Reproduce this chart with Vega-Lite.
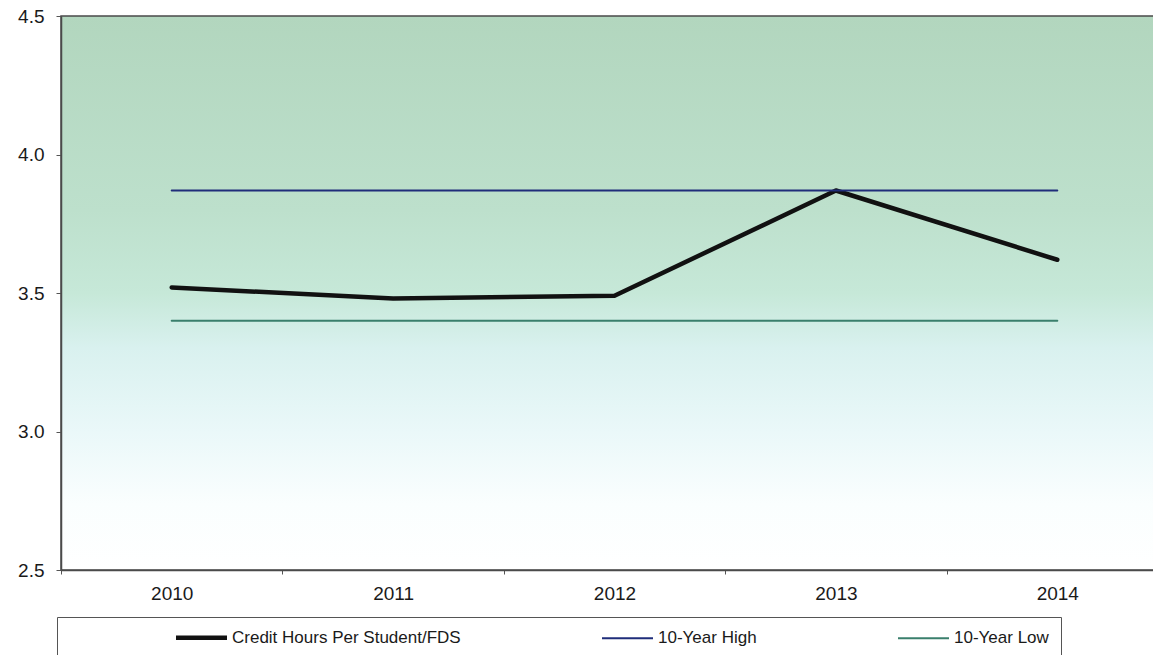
{
  "$schema": "https://vega.github.io/schema/vega-lite/v6.json",
  "width": 1107,
  "height": 554,
  "autosize": {"type": "none"},
  "padding": {"left": 61, "top": 16, "right": 0, "bottom": 85},
  "background": "white",
  "config": {
    "font": "Liberation Sans",
    "view": {
      "stroke": "#4a4a4a",
      "strokeWidth": 1.5,
      "fill": {
        "gradient": "linear",
        "x1": 0, "y1": 0, "x2": 0, "y2": 1,
        "stops": [
          {"offset": 0, "color": "#b2d6be"},
          {"offset": 0.35, "color": "#bde0cc"},
          {"offset": 0.5, "color": "#c6e8d8"},
          {"offset": 0.6, "color": "#d9f1ef"},
          {"offset": 0.75, "color": "#eaf8f9"},
          {"offset": 0.88, "color": "#fafefe"},
          {"offset": 1, "color": "#ffffff"}
        ]
      }
    }
  },
  "data": {
    "values": [
      {"year": "2010", "series": "Credit Hours Per Student/FDS", "value": 3.52},
      {"year": "2011", "series": "Credit Hours Per Student/FDS", "value": 3.48},
      {"year": "2012", "series": "Credit Hours Per Student/FDS", "value": 3.49},
      {"year": "2013", "series": "Credit Hours Per Student/FDS", "value": 3.87},
      {"year": "2014", "series": "Credit Hours Per Student/FDS", "value": 3.62},
      {"year": "2010", "series": "10-Year High", "value": 3.87},
      {"year": "2011", "series": "10-Year High", "value": 3.87},
      {"year": "2012", "series": "10-Year High", "value": 3.87},
      {"year": "2013", "series": "10-Year High", "value": 3.87},
      {"year": "2014", "series": "10-Year High", "value": 3.87},
      {"year": "2010", "series": "10-Year Low", "value": 3.40},
      {"year": "2011", "series": "10-Year Low", "value": 3.40},
      {"year": "2012", "series": "10-Year Low", "value": 3.40},
      {"year": "2013", "series": "10-Year Low", "value": 3.40},
      {"year": "2014", "series": "10-Year Low", "value": 3.40}
    ]
  },
  "mark": {"type": "line", "strokeCap": "round", "strokeJoin": "round", "clip": false},
  "encoding": {
    "x": {
      "field": "year",
      "type": "ordinal",
      "bandPosition": 0.5,
      "scale": {"type": "band", "paddingInner": 0, "paddingOuter": 0},
      "axis": {
        "title": null,
        "labelAngle": 0,
        "labelFontSize": 19,
        "labelColor": "#1a1a1a",
        "labelPadding": 10,
        "tickBand": "extent",
        "tickSize": 4,
        "tickColor": "#555",
        "domainColor": "#4a4a4a",
        "domainWidth": 1.5
      }
    },
    "y": {
      "field": "value",
      "type": "quantitative",
      "scale": {"domain": [2.5, 4.5], "zero": false, "nice": false},
      "axis": {
        "title": null,
        "values": [2.5, 3.0, 3.5, 4.0, 4.5],
        "format": ".1f",
        "grid": false,
        "labelFontSize": 19,
        "labelColor": "#1a1a1a",
        "labelPadding": 12,
        "tickSize": 5,
        "tickColor": "#555",
        "domainColor": "#4a4a4a",
        "domainWidth": 1.5
      }
    },
    "color": {
      "field": "series",
      "type": "nominal",
      "scale": {
        "domain": ["Credit Hours Per Student/FDS", "10-Year High", "10-Year Low"],
        "range": ["#111111", "#1f2d7a", "#3a7f6c"]
      },
      "legend": {
        "title": null,
        "orient": "none",
        "legendX": -4,
        "legendY": 601,
        "direction": "horizontal",
        "symbolType": "stroke",
        "symbolSize": 2601,
        "symbolStrokeWidth": 2,
        "labelFontSize": 17,
        "labelColor": "#1a1a1a",
        "labelLimit": 400,
        "labelOffset": 22,
        "symbolOffset": 124,
        "columnPadding": 34,
        "padding": 12,
        "fillColor": "white",
        "strokeColor": "#555555",
        "encode": {
          "symbols": {
            "update": {
              "strokeWidth": {"signal": "datum.value === 'Credit Hours Per Student/FDS' ? 4.5 : 2"}
            }
          },
          "legend": {
            "update": {
              "width": {"value": 1150}
            }
          }
        }
      }
    },
    "strokeWidth": {
      "condition": {"test": "datum.series === 'Credit Hours Per Student/FDS'", "value": 4.5},
      "value": 2
    }
  }
}
